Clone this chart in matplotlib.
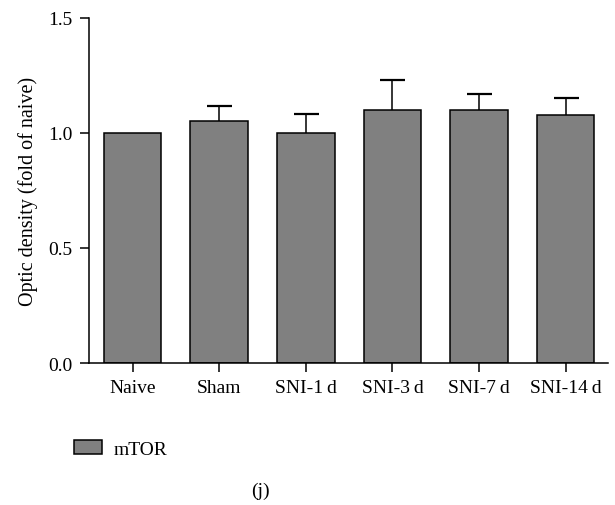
import matplotlib
matplotlib.use("Agg")
import matplotlib.pyplot as plt
from matplotlib.patches import Patch

plt.rcParams['font.family'] = ['Liberation Serif', 'DejaVu Serif']

groups = ['Naive', 'Sham', 'SNI-1\u2009d', 'SNI-3\u2009d', 'SNI-7\u2009d', 'SNI-14\u2009d']
mtor = [1.0, 1.05, 1.0, 1.10, 1.10, 1.077]
mtor_sem = [float('nan'), 0.065, 0.083, 0.13, 0.07, 0.075]

fig = plt.figure(figsize=(6.15, 5.06), dpi=100)
ax = fig.add_axes([0.1447, 0.2806, 0.8439, 0.6824])

x = range(len(groups))
ax.bar(x, mtor, width=0.665, color='#808080', edgecolor='black', linewidth=1.1, zorder=2)
eb = ax.errorbar(x, mtor, yerr=[[0]*len(mtor), mtor_sem], fmt='none', ecolor='black',
                 elinewidth=1.1, capsize=9, capthick=1.6, zorder=1)
# only the upper caps are wanted
eb.lines[1][0].set_visible(False)

ax.set_xlim(-0.505, 5.49)
ax.set_ylim(0, 1.5)
ax.set_yticks([0.0, 0.5, 1.0, 1.5])
ax.set_yticklabels(['0.0', '0.5', '1.0', '1.5'])
ax.set_xticks(list(x))
ax.set_xticklabels(groups)
ax.spines['top'].set_visible(False)
ax.spines['right'].set_visible(False)
ax.spines['left'].set_linewidth(1.1)
ax.spines['bottom'].set_linewidth(1.1)
ax.tick_params(axis='both', direction='out', length=6.5, width=1.1, labelsize=14)
ax.tick_params(axis='y', pad=5.5)
ax.tick_params(axis='x', pad=5)
ax.set_ylabel('Optic density (fold of naive)', fontsize=14.5, labelpad=7)

fig.legend(handles=[Patch(facecolor='#808080', edgecolor='black', linewidth=1.1, label='mTOR')],
           loc='center left', bbox_to_anchor=(0.105, 0.111), frameon=False, fontsize=14,
           handlelength=1.4, handleheight=0.78, handletextpad=0.62, borderpad=0)

fig.text(0.423, 0.028, '(j)', ha='center', va='center', fontsize=14)

fig.savefig('out.png', dpi=100)
